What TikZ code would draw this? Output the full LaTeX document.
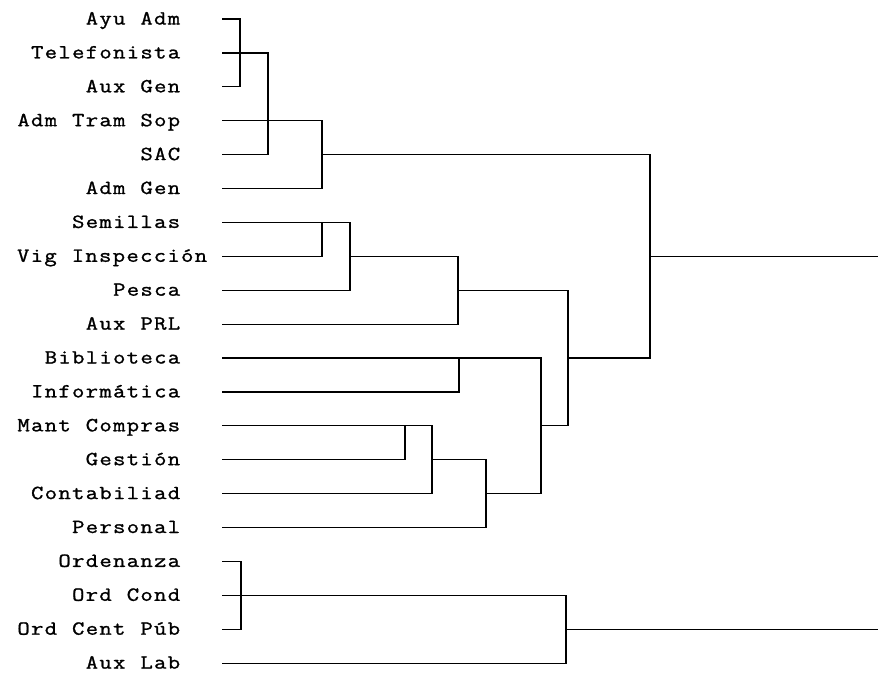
\documentclass[tikz,border=0pt]{standalone}
\usepackage{fontspec}
\newfontfamily\monofont[FakeStretch=1.2,FakeBold=1.2]{Latin Modern Mono}
% each character in a fixed-width cell, so the labels keep a wide pitch
\newcommand\spc[1]{\spcloop#1\relax}
\def\spcloop#1{\ifx\relax#1\else\makebox[13.67pt]{#1}\expandafter\spcloop\fi}
\begin{document}
\begin{tikzpicture}[x=1pt,y=-1pt,
  lbl/.style={anchor=base east,inner sep=0pt,font=\monofont\fontsize{20}{20}\selectfont},
  link/.style={draw=black,line width=1.2pt}]
\useasboundingbox (0,0) rectangle (878,672);
% row labels, right aligned
\foreach \i/\t in {0/Ayu~Adm,1/Telefonista,2/Aux~Gen,3/Adm~Tram~Sop,4/SAC,5/Adm~Gen,
  6/Semillas,8/Pesca,9/Aux~PRL,10/Biblioteca,11/Informática,12/Mant~Compras,
  13/Gestión,14/Contabiliad,15/Personal,16/Ordenanza,17/Ord~Cond,18/Ord~Cent~Púb,19/Aux~Lab}{
  \pgfmathsetmacro\yy{19+33.9*\i}
  \node[lbl] (t\i) at (181,\yy+5.5) {\expandafter\spc\expandafter{\t}};
}
\pgfmathsetmacro\yy{19+33.9*7}
\node[lbl] (t7) at (208,\yy+5.5) {\spc{Vig~Inspección}};
% start of each leaf line
\foreach \i in {0,...,19}{
  \pgfmathsetmacro\yy{19+33.9*\i}
  \coordinate (l\i) at (222,\yy);
}
% junctions
\coordinate (j1) at (240,52.9);
\coordinate (j2) at (268,52.9);
\coordinate (j3) at (322,154.6);
\coordinate (r1) at (650,256.3);
\coordinate (e1) at (878,256.3);
\coordinate (k1) at (322,222.4);
\coordinate (k2) at (350,256.3);
\coordinate (k3) at (458,290.2);
\coordinate (k4) at (568,358.0);
\coordinate (k4b) at (568,425.8);
\coordinate (k5) at (459,358.0);
\coordinate (k6) at (541,493.6);
\coordinate (k7) at (541,425.8);
\coordinate (m1) at (405,425.8);
\coordinate (m2) at (432,459.7);
\coordinate (m3) at (486,493.6);
\coordinate (n1) at (241,595.3);
\coordinate (n2) at (566,629.2);
\coordinate (e2) at (878,629.2);
% first block
\draw[link] (l0) -| (j1) |- (l2);
\draw[link] (j1) -- (j2);
\draw[link] (l1) -- (j2) |- (l4);
\draw[link] (l3) -| (j3) |- (l5);
\draw[link] (j3) -| (r1);
\draw[link] (r1) -- (e1);
% second block
\draw[link] (l7) -| (k1);
\draw[link] (l6) -| (k2) |- (l8);
\draw[link] (k2) -| (k3) |- (l9);
\draw[link] (k3) -| (k4b);
\draw[link] (k4b) -- (k7);
\draw[link] (k4) -| (r1);
\draw[link] (l11) -| (k5);
\draw[link] (l10) -| (k6);
\draw[link] (l13) -| (m1);
\draw[link] (l12) -| (m2) |- (l14);
\draw[link] (m2) -| (m3) |- (l15);
\draw[link] (m3) -- (k6);
% third block
\draw[link] (l16) -| (n1) |- (l18);
\draw[link] (l17) -| (n2) |- (l19);
\draw[link] (n2) -- (e2);
\end{tikzpicture}
\end{document}
